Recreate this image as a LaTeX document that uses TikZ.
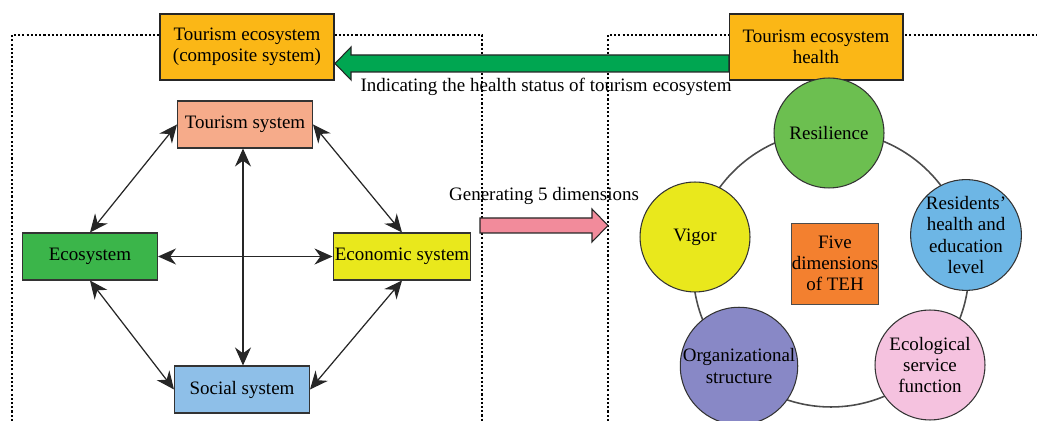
\documentclass[tikz,border=0pt]{standalone}
\usepackage{fontspec}
\setmainfont{Liberation Serif}
\newfontfamily\timesfont{Liberation Serif}
\usetikzlibrary{arrows.meta,calc}
\definecolor{boxorange}{HTML}{FBB716}
\definecolor{bigarrowgreen}{HTML}{00A651}
\definecolor{tourcol}{HTML}{F6AB8A}
\definecolor{ecocol}{HTML}{3BB54A}
\definecolor{econcol}{HTML}{E9E81C}
\definecolor{soccol}{HTML}{8EBFE8}
\definecolor{pinkarrow}{HTML}{F28B9B}
\definecolor{rescol}{HTML}{6CBF50}
\definecolor{vigcol}{HTML}{E9E81C}
\definecolor{residcol}{HTML}{6DB6E5}
\definecolor{orgcol}{HTML}{8888C6}
\definecolor{ecolcol}{HTML}{F5C2DF}
\definecolor{fivecol}{HTML}{F3802F}
\tikzset{
  x=0.02cm, y=-0.02cm,
  every node/.style={font=\timesfont\fontsize{10.8}{12}\selectfont, text=black},
  sysbox/.style={draw=black!80, line width=0.6pt, minimum width=2.7cm, minimum height=0.94cm, inner sep=1pt, align=center},
  topbox/.style={draw=black!85, fill=boxorange, line width=0.6pt, minimum width=3.48cm, minimum height=1.32cm, align=center, inner sep=1pt},
  dimcircle/.style={circle, draw=black!80, line width=0.6pt, minimum size=2.2cm, inner sep=0pt, align=center},
  frame/.style={line width=1.2pt, black, dash pattern=on 1.2pt off 1.2pt},
  link/.style={line width=0.7pt, black!85, {Stealth[length=3.6mm,width=3.2mm]}-{Stealth[length=3.6mm,width=3.2mm]}},
  blockarrow/.style={draw=black!85, line width=0.6pt},
}
\begin{document}
\begin{tikzpicture}
\useasboundingbox (0,0) rectangle (1037,421);
% dotted frames
\draw[frame] (12,421) -- (12,35) -- (482,35) -- (482,421);
\draw[frame] (608,421) -- (608,35) -- (1037,35);

% top boxes
\node[topbox] (tes) at (247,47) {Tourism ecosystem\\(composite system)};
\node[topbox] (teh) at (816,47) {Tourism ecosystem\\health};

% green block arrow
\draw[blockarrow, fill=bigarrowgreen]
  (729,55) -- (351,55) -- (351,47) -- (335,63.5) -- (351,80) -- (351,72) -- (729,72) -- cycle;
\node (lab1) at (546,87) {Indicating the health status of tourism ecosystem};

% left subsystem boxes
\node[sysbox, fill=tourcol] (tour) at (245,124.5) {Tourism system};
\node[sysbox, fill=ecocol] (eco) at (90,256.5) {Ecosystem};
\node[sysbox, fill=econcol] (econ) at (402,256.5) {Economic system};
\node[sysbox, fill=soccol] (soc) at (242,389.5) {Social system};

\draw[link] (tour.west) -- (eco.north);
\draw[link] (tour.east) -- (econ.north);
\draw[link] (eco.east) -- (econ.west);
\draw[link] (tour.south -| 243,0) -- (soc.north -| 243,0);
\draw[link] (eco.south) -- (soc.west);
\draw[link] (econ.south) -- (soc.east);

% pink block arrow
\draw[blockarrow, fill=pinkarrow]
  (480,218) -- (592,218) -- (592,209) -- (608,225.5) -- (592,242) -- (592,233) -- (480,233) -- cycle;
\node (lab2) at (544,196) {Generating 5 dimensions};

% ring
\node[circle, draw=black!70, line width=0.9pt, minimum size=5.52cm, inner sep=0pt] (ring) at (831,269) {};

% dimension circles
\node[dimcircle, fill=rescol] (res) at (829,133) {Resilience};
\node[dimcircle, fill=vigcol] (vig) at (695,237) {Vigor};
\node[dimcircle, fill=residcol] (resid) at (966,235) {Residents’\\health and\\education\\level};
\node[dimcircle, fill=orgcol] (org) at (739,366) {Organizational\\structure};
\node[dimcircle, fill=ecolcol] (ecol) at (930,365) {Ecological\\service\\function};

\node[draw=black!70, line width=0.5pt, fill=fivecol, minimum width=1.64cm, minimum height=1.62cm, inner sep=0pt, align=center] (five) at (835,263.5) {Five\\dimensions\\of TEH};
\end{tikzpicture}
\end{document}
